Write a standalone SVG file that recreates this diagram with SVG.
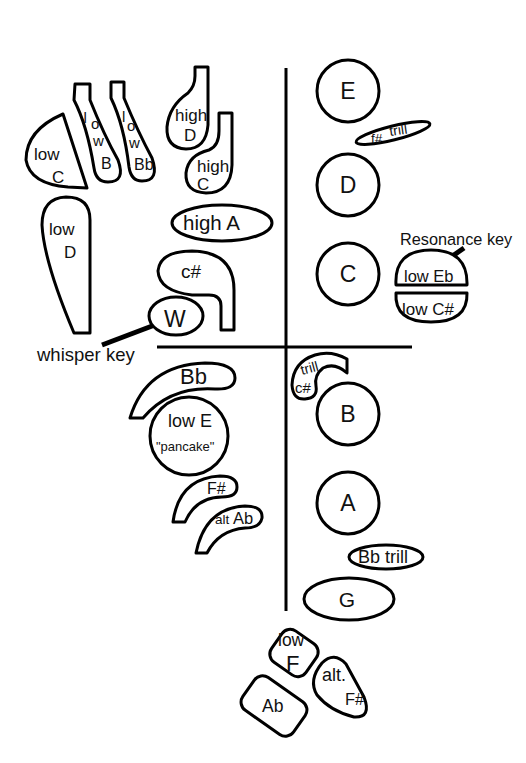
<svg xmlns="http://www.w3.org/2000/svg" width="526" height="763" viewBox="0 0 526 763">
<style>
.k{fill:#fff;stroke:#000;stroke-width:3;stroke-linejoin:round}
.t{font-family:"Liberation Sans",Arial,sans-serif;fill:#111}
.ln{stroke:#000;stroke-width:3;fill:none}
.ld{stroke:#000;stroke-width:5;fill:none}
</style>
<rect width="526" height="763" fill="#fff"/>
<g id="connectors">
<line class="ln" x1="286" y1="68" x2="286" y2="611"/>
<line class="ln" x1="157" y1="347" x2="412" y2="347"/>
<line class="ld" x1="102" y1="345" x2="160" y2="323"/>
<line class="ld" x1="464" y1="248" x2="441" y2="264"/>
</g>
<g id="lowC"><path class="k" d="M63 114 L87 188 L68 187 Q30 184 26 160 Q26 130 63 114 Z"/>
<text class="t" font-size="17" x="34" y="160">low</text><text class="t" font-size="17" x="52" y="183">C</text></g>
<g id="lowB"><path class="k" d="M75 84 L90 84 L90 100 Q104 135 118 160 Q126 182 108 182 Q96 182 94 168 Q87 125 74 100 Z"/>
<text class="t" font-size="15" x="83.5" y="123">l</text><text class="t" font-size="15" x="91" y="129">o</text><text class="t" font-size="15" x="93" y="146">w</text><text class="t" font-size="16" x="101" y="169">B</text></g>
<g id="lowBb"><path class="k" d="M111 82 L124 82 L124 98 Q138 132 152 158 Q160 181 142 181 Q131 181 129 167 Q124 125 111 98 Z"/>
<text class="t" font-size="15" x="122" y="122">l</text><text class="t" font-size="15" x="127" y="131">o</text><text class="t" font-size="15" x="129" y="148">w</text><text class="t" font-size="16" x="134" y="170">Bb</text></g>
<g id="highD"><path class="k" d="M195 67 L208 67 L208 125 Q206 149 186 149 Q166 148 167 127 Q169 106 188 93 Q195 86 195 76 Z"/>
<text class="t" font-size="17" x="175" y="121">high</text><text class="t" font-size="17" x="184" y="141">D</text></g>
<g id="highC"><path class="k" d="M219 113 L232 113 L232 165 Q231 193 206 193 Q185 192 186 173 Q188 155 209 150 Q219 146 219 131 Z"/>
<text class="t" font-size="17" x="197" y="172">high</text><text class="t" font-size="17" x="197" y="190">C</text></g>
<g id="lowD"><path class="k" d="M74 333 L90 333 L90 220 Q90 197 66 197 Q42 198 42 225 Q44 262 74 333 Z"/>
<text class="t" font-size="17" x="49" y="235">low</text><text class="t" font-size="17" x="64" y="258">D</text></g>
<g id="highA"><ellipse class="k" cx="222" cy="223" rx="50" ry="18"/>
<text class="t" font-size="20.5" x="183" y="230">high A</text></g>
<g id="cSharp"><path class="k" d="M221 330 L221 306 Q221 295 209 295 L192 295 Q159 291 158 271 Q160 251 192 251 Q234 252 234 290 L234 330 Z"/>
<text class="t" font-size="19" x="181" y="278">c#</text></g>
<g id="whisper"><ellipse class="k" cx="176" cy="316" rx="27" ry="19"/>
<text class="t" font-size="23" x="164" y="327">W</text>
<text class="t" font-size="18.5" x="37" y="361">whisper key</text></g>
<g id="E"><circle class="k" cx="348" cy="91" r="31"/><text class="t" font-size="23" x="348" y="99" text-anchor="middle">E</text></g>
<g id="fSharpTrill"><ellipse class="k" cx="393" cy="133" rx="38" ry="7" transform="rotate(-14 393 133)"/>
<text class="t" font-size="13.5" x="371" y="143">f#</text><text class="t" font-size="14" x="390" y="136" transform="rotate(-8 390 136)">trill</text></g>
<g id="D"><circle class="k" cx="348" cy="185" r="31"/><text class="t" font-size="23" x="348" y="193" text-anchor="middle">D</text></g>
<g id="C"><circle class="k" cx="348" cy="274" r="31"/><text class="t" font-size="23" x="348" y="282" text-anchor="middle">C</text></g>
<g id="lowEb"><path class="k" d="M396 285 Q394 250 431 250 Q468 250 467 285 Z"/>
<text class="t" font-size="16.5" x="404" y="282">low Eb</text>
<text class="t" font-size="16.3" x="400" y="245">Resonance key</text></g>
<g id="lowCSharp"><path class="k" d="M396 293 L467 293 Q468 322 431 322 Q394 322 396 293 Z"/>
<text class="t" font-size="17" x="402" y="315">low C#</text></g>
<g id="Bb"><path class="k" d="M130 418 Q146 365 205 363 Q235 363 235 378 Q235 390 215 389 Q170 386 143 418 Z"/>
<text class="t" font-size="22" x="180" y="384">Bb</text></g>
<g id="lowE"><circle class="k" cx="189" cy="436" r="39"/>
<text class="t" font-size="18" x="168" y="427">low E</text><text class="t" font-size="13" x="156" y="451">"pancake"</text></g>
<g id="FSharp"><path class="k" d="M173 522 Q179 478 220 476 Q237 476 237 487 Q237 497 222 497 Q196 497 185 522 Z"/>
<text class="t" font-size="16" x="207" y="494">F#</text></g>
<g id="altAb"><path class="k" d="M196 553 Q205 508 245 506 Q263 506 262 518 Q260 528 245 528 Q219 530 207 553 Z"/>
<text class="t" font-size="13.5" x="215" y="524">alt</text><text class="t" font-size="16.5" x="233" y="524">Ab</text></g>
<g id="cSharpTrill"><path class="k" d="M347 373 L347 359 Q331 350 315 355 Q293 362 292 385 Q293 400 305 399 Q318 398 316 386 Q314 375 323 368 Q335 362 347 373 Z"/>
<text class="t" font-size="14" x="302" y="375" transform="rotate(-15 302 375)">trill</text><text class="t" font-size="15" x="295" y="393">c#</text></g>
<g id="B"><circle class="k" cx="348" cy="414" r="31"/><text class="t" font-size="23" x="348" y="422" text-anchor="middle">B</text></g>
<g id="A"><circle class="k" cx="348" cy="503" r="31"/><text class="t" font-size="23" x="348" y="511" text-anchor="middle">A</text></g>
<g id="BbTrill"><ellipse class="k" cx="386" cy="557" rx="37" ry="12"/>
<text class="t" font-size="18" x="358" y="563">Bb trill</text></g>
<g id="G"><ellipse class="k" cx="349" cy="599" rx="45" ry="21"/><text class="t" font-size="21" x="347" y="607" text-anchor="middle">G</text></g>
<g id="lowF"><rect class="k" x="273" y="634" width="42" height="38" rx="10" transform="rotate(35 294 653)"/>
<text class="t" font-size="17.5" x="278" y="646">low</text><text class="t" font-size="22" x="286" y="671">F</text></g>
<g id="altFSharp"><path class="k" d="M322 663 Q334 651 346 664 L364 697 Q372 718 354 717 Q330 711 317 695 Q308 680 322 663 Z"/>
<text class="t" font-size="18" x="322" y="681">alt.</text><text class="t" font-size="16.5" x="345" y="705">F#</text></g>
<g id="Ab"><rect class="k" x="243" y="686" width="62" height="40" rx="10" transform="rotate(35 274 706)"/>
<text class="t" font-size="17.5" x="262" y="712">Ab</text></g>
</svg>
